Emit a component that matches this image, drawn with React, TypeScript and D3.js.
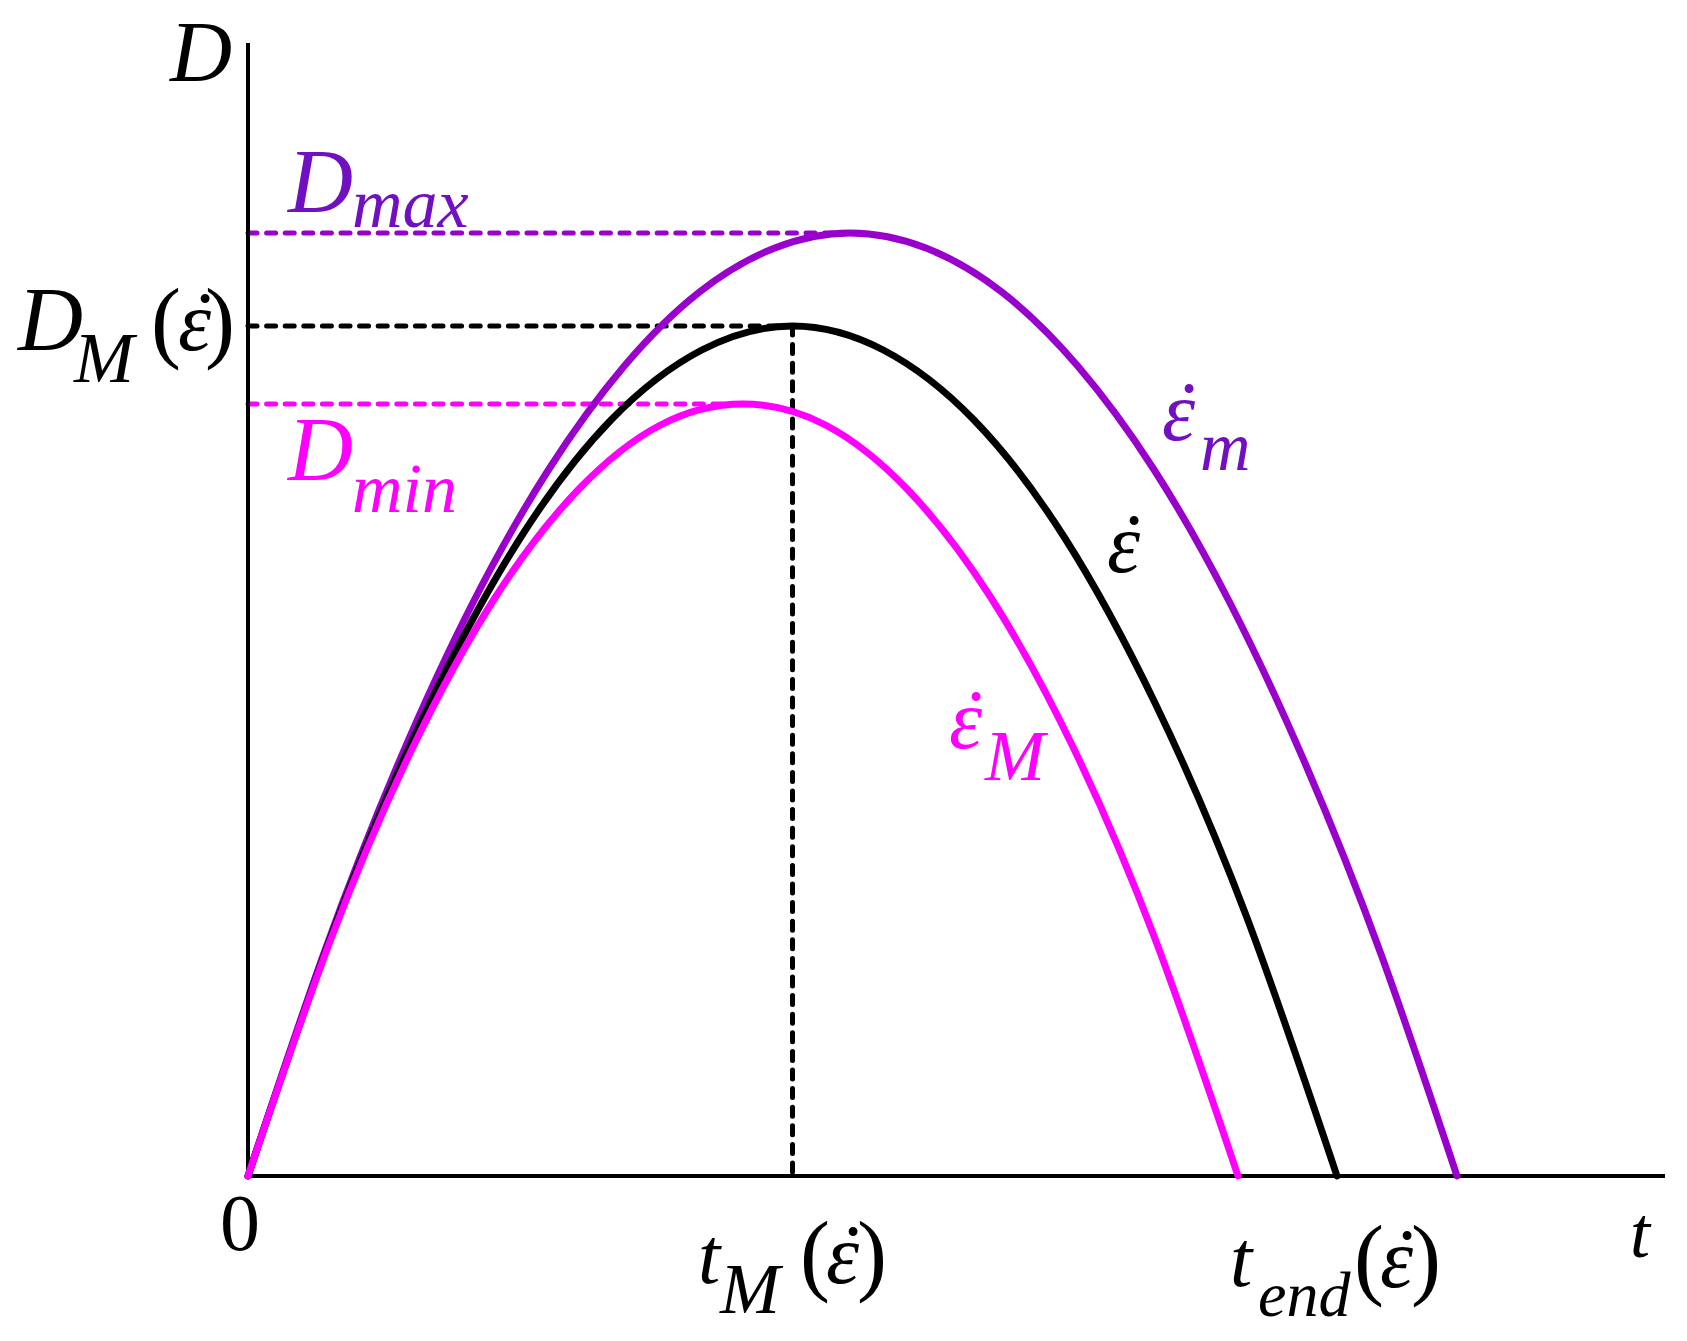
import React from "react";
import * as d3 from "d3";

// ---- Data (arbitrary units: t along x, D along y) ----
const T_MAX = 14.17;
const D_MAX_AXIS = 11.33;

// curve for strain rate epsilon_M (fast) -> smallest peak, magenta
const curveFast: [number, number][] = [
  [0, 0], [0.825, 2.36], [1.65, 4.29], [2.475, 5.79], [3.3, 6.86], [4.125, 7.51],
  [4.95, 7.72], [5.775, 7.51], [6.6, 6.86], [7.425, 5.79], [8.25, 4.29], [9.075, 2.36],
  [9.9, 0],
];
// curve for nominal strain rate epsilon (black)
const curveMid: [number, number][] = [
  [0, 0], [0.908, 2.6], [1.815, 4.72], [2.723, 6.38], [3.63, 7.56], [4.538, 8.26],
  [5.445, 8.5], [6.353, 8.26], [7.26, 7.56], [8.168, 6.38], [9.075, 4.72], [9.983, 2.6],
  [10.89, 0],
];
// curve for strain rate epsilon_m (slow) -> largest peak, purple
const curveSlow: [number, number][] = [
  [0, 0], [0.753, 2.21], [1.505, 4.13], [2.258, 5.75], [3.01, 7.07], [3.763, 8.1],
  [4.515, 8.84], [5.268, 9.28], [6.02, 9.43], [6.779, 9.28], [7.538, 8.84], [8.297, 8.1],
  [9.056, 7.07], [9.815, 5.74], [10.574, 4.12], [11.333, 2.21], [12.09, 0],
];

// reference levels
const peakSlow: [number, number] = [6.02, 9.43];
const peakMid: [number, number] = [5.445, 8.5];
const peakFast: [number, number] = [4.95, 7.72];

const PURPLE = "#9900CC";
const PURPLE_TEXT = "#7010C0";
const MAGENTA = "#FF00FF";
const FONT = "'Liberation Serif', 'Times New Roman', serif";

export default function App() {
  const W = 1687;
  const H = 1341;
  const x = d3.scaleLinear().domain([0, T_MAX]).range([248, 1665]);
  const y = d3.scaleLinear().domain([0, D_MAX_AXIS]).range([1176, 43]);

  const line = d3
    .line<[number, number]>()
    .x((d) => x(d[0]))
    .y((d) => y(d[1]))
    .curve(d3.curveNatural);

  const dash = { strokeWidth: 5, strokeDasharray: "9 9.6", strokeLinecap: "round" as const };

  const it = (
    txt: string,
    px: number,
    py: number,
    size: number,
    fill: string,
    italic = true,
    anchor: "start" | "middle" | "end" = "start"
  ) => (
    <text
      x={px}
      y={py}
      fontSize={size}
      fill={fill}
      fontFamily={FONT}
      fontStyle={italic ? "italic" : "normal"}
      textAnchor={anchor}
    >
      {txt}
    </text>
  );

  // epsilon with dot above
  const epsDot = (px: number, py: number, size: number, fill: string) => (
    <g>
      {it("ε", px, py, size, fill)}
      {it("˙", px + size * 0.26, py, size, fill, true, "middle")}
    </g>
  );

  return (
    <svg
      width={W}
      height={H}
      style={{ position: "absolute", left: 0, top: 0, background: "#fff" }}
    >
      <rect x={0} y={0} width={W} height={H} fill="#fff" />

      {/* dashed reference lines */}
      <line x1={x(0)} x2={x(peakSlow[0])} y1={y(peakSlow[1])} y2={y(peakSlow[1])} stroke={PURPLE} {...dash} />
      <line x1={x(0)} x2={x(peakMid[0])} y1={y(peakMid[1])} y2={y(peakMid[1])} stroke="#000" {...dash} />
      <line x1={x(0)} x2={x(peakFast[0])} y1={y(peakFast[1])} y2={y(peakFast[1])} stroke={MAGENTA} {...dash} />
      <line x1={x(peakMid[0])} x2={x(peakMid[0])} y1={y(peakMid[1])} y2={y(0)} stroke="#000" {...dash} />

      {/* axes */}
      <line x1={x(0)} x2={x(0)} y1={y(D_MAX_AXIS)} y2={y(0)} stroke="#000" strokeWidth={4} />
      <line x1={x(0)} x2={x(T_MAX)} y1={y(0)} y2={y(0)} stroke="#000" strokeWidth={4} />

      {/* curves */}
      <path d={line(curveSlow) || ""} fill="none" stroke={PURPLE} strokeWidth={7} strokeLinecap="round" />
      <path d={line(curveMid) || ""} fill="none" stroke="#000" strokeWidth={7} strokeLinecap="round" />
      <path d={line(curveFast) || ""} fill="none" stroke={MAGENTA} strokeWidth={7} strokeLinecap="round" />

      {/* axis labels */}
      {it("D", 170, 81, 86, "#000")}
      {it("t", 1630, 1257, 72, "#000")}
      {it("0", 240, 1250, 80, "#000", false, "middle")}

      {/* D_max */}
      {it("D", 288, 212, 90, PURPLE_TEXT)}
      {it("max", 352, 227, 70, PURPLE_TEXT)}

      {/* D_M(eps) */}
      {it("D", 18, 350, 90, "#000")}
      {it("M", 74, 382, 72, "#000")}
      {it("(", 151, 351, 90, "#000", false)}
      {epsDot(178, 350, 84, "#000")}
      {it(")", 205, 351, 90, "#000", false)}

      {/* D_min */}
      {it("D", 288, 480, 90, MAGENTA)}
      {it("min", 352, 512, 70, MAGENTA)}

      {/* curve labels */}
      {epsDot(1162, 440, 84, PURPLE_TEXT)}
      {it("m", 1200, 470, 70, PURPLE_TEXT)}
      {epsDot(1107, 572, 84, "#000")}
      {epsDot(949, 748, 84, MAGENTA)}
      {it("M", 985, 780, 72, MAGENTA)}

      {/* t_M(eps) */}
      {it("t", 698, 1283, 80, "#000")}
      {it("M", 720, 1313, 72, "#000")}
      {it("(", 800, 1284, 90, "#000", false)}
      {epsDot(826, 1283, 84, "#000")}
      {it(")", 857, 1284, 90, "#000", false)}

      {/* t_end(eps) */}
      {it("t", 1230, 1286, 80, "#000")}
      {it("end", 1258, 1316, 64, "#000")}
      {it("(", 1354, 1288, 90, "#000", false)}
      {epsDot(1380, 1287, 84, "#000")}
      {it(")", 1411, 1288, 90, "#000", false)}
    </svg>
  );
}
